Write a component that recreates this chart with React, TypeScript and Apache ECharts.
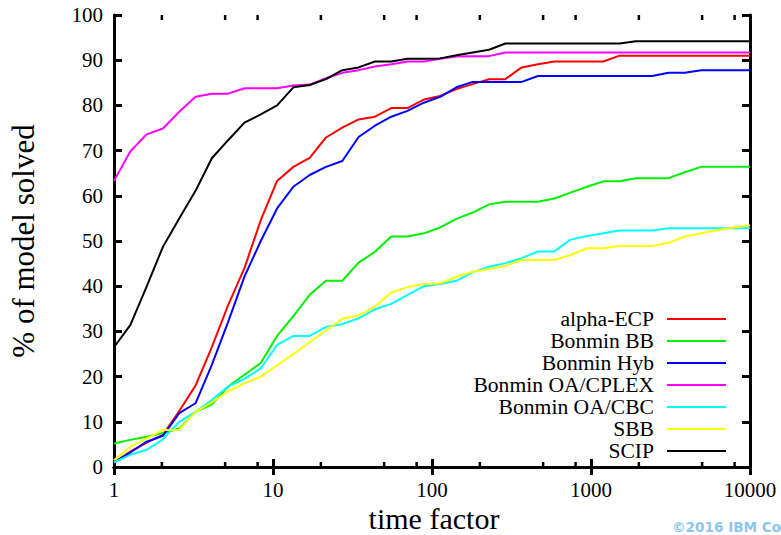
import React, { useEffect, useRef } from "react";
import * as echarts from "echarts";

const timeFactor = [1, 1.266, 1.604, 2.031, 2.572, 3.257, 4.124, 5.222, 6.613, 8.375, 10.61, 13.43, 17.01, 21.54, 27.28, 34.55, 43.76, 55.41, 70.17, 88.86, 112.5, 142.5, 180.5, 228.5, 289.4, 366.5, 464.2, 587.8, 744.4, 942.7, 1194, 1512, 1915, 2425, 3070, 3888, 4924, 6235, 7897, 10000];

const alphaECP = [1.0, 3.4, 5.4, 7.1, 12.4, 18.0, 26.5, 35.8, 44.0, 54.6, 63.3, 66.4, 68.4, 72.9, 75.1, 76.9, 77.5, 79.4, 79.4, 81.3, 82.1, 83.6, 84.7, 85.8, 85.8, 88.4, 89.1, 89.7, 89.7, 89.7, 89.7, 91.0, 91.0, 91.0, 91.0, 91.0, 91.0, 91.0, 91.0, 91.0];
const bonminBB = [5.2, 6.0, 6.7, 7.5, 8.5, 12.2, 13.8, 17.8, 20.4, 23.0, 29.0, 33.4, 38.1, 41.2, 41.2, 45.2, 47.6, 51.0, 51.0, 51.7, 53.0, 54.9, 56.3, 58.1, 58.7, 58.7, 58.7, 59.4, 60.7, 62.0, 63.2, 63.2, 63.9, 63.9, 63.9, 65.2, 66.4, 66.4, 66.4, 66.4];
const bonminHyb = [1.0, 3.2, 5.6, 6.9, 11.9, 14.1, 22.6, 32.1, 42.1, 50.0, 57.2, 62.0, 64.6, 66.4, 67.7, 73.0, 75.5, 77.5, 78.8, 80.6, 81.9, 84.0, 85.2, 85.2, 85.2, 85.2, 86.5, 86.5, 86.5, 86.5, 86.5, 86.5, 86.5, 86.5, 87.2, 87.2, 87.8, 87.8, 87.8, 87.8];
const bonminOACPLEX = [63.3, 69.8, 73.6, 74.9, 78.6, 81.9, 82.6, 82.6, 83.8, 83.8, 83.8, 84.4, 84.6, 86.0, 87.2, 87.8, 88.6, 89.1, 89.7, 89.7, 90.3, 90.8, 90.9, 90.9, 91.7, 91.7, 91.7, 91.7, 91.7, 91.7, 91.7, 91.7, 91.7, 91.7, 91.7, 91.7, 91.7, 91.7, 91.7, 91.7];
const bonminOACBC = [1.0, 2.7, 3.8, 6.1, 10.0, 12.2, 14.8, 17.8, 19.5, 21.8, 27.0, 29.0, 29.0, 31.0, 31.6, 32.9, 34.9, 36.1, 38.1, 40.0, 40.5, 41.2, 43.1, 44.3, 45.1, 46.2, 47.7, 47.7, 50.3, 51.1, 51.7, 52.3, 52.3, 52.3, 52.8, 52.8, 52.8, 52.8, 52.8, 52.8];
const sbb = [1.5, 4.5, 6.3, 8.2, 8.2, 12.2, 14.3, 16.7, 18.5, 20.0, 22.5, 25.0, 27.6, 30.2, 32.8, 33.5, 35.5, 38.6, 39.8, 40.5, 40.6, 42.1, 43.2, 43.8, 44.5, 45.8, 45.8, 45.8, 46.9, 48.4, 48.4, 48.9, 48.9, 48.9, 49.6, 51.0, 51.7, 52.4, 53.0, 53.5];
const scip = [26.5, 31.4, 39.9, 48.7, 55.0, 61.1, 68.3, 72.3, 76.2, 78.0, 80.0, 84.0, 84.5, 85.8, 87.8, 88.4, 89.7, 89.7, 90.3, 90.3, 90.4, 91.1, 91.7, 92.3, 93.7, 93.7, 93.7, 93.7, 93.7, 93.7, 93.7, 93.7, 94.2, 94.2, 94.2, 94.2, 94.2, 94.2, 94.2, 94.2];

const seriesNames = ["alpha-ECP", "Bonmin BB", "Bonmin Hyb", "Bonmin OA/CPLEX", "Bonmin OA/CBC", "SBB", "SCIP"];
const seriesValues = [alphaECP, bonminBB, bonminHyb, bonminOACPLEX, bonminOACBC, sbb, scip];
const seriesColors = ["#ff0000", "#00f000", "#0000ff", "#ff00ff", "#00ffff", "#ffff00", "#000000"];

const minorTicks = [2, 5, 8, 20, 50, 80, 200, 500, 800, 2000, 5000, 8000];

const SERIF = "'Liberation Serif', 'Times New Roman', serif";

export default function App() {
  const ref = useRef<HTMLDivElement>(null);
  useEffect(() => {
    if (!ref.current) return;
    const chart = echarts.init(ref.current, null, { renderer: "svg" });
    const xCommon = {
      type: "log" as const,
      logBase: 10,
      min: 1,
      max: 10000,
      splitLine: { show: false },
      minorTick: { show: false },
      axisLine: { show: true, lineStyle: { color: "#000", width: 3 } },
      axisTick: { show: true, inside: true, length: 8, lineStyle: { color: "#000", width: 3 } },
    };
    const yCommon = {
      type: "value" as const,
      min: 0,
      max: 100,
      interval: 10,
      splitLine: { show: false },
      axisLine: { show: true, lineStyle: { color: "#000", width: 3 } },
      axisTick: { show: true, inside: true, length: 8, lineStyle: { color: "#000", width: 3 } },
    };
    const lineSeries = seriesNames.map((name, i) => ({
      name,
      type: "line",
      xAxisIndex: 0,
      yAxisIndex: 0,
      data: timeFactor.map((t, j) => [t, seriesValues[i][j]]),
      showSymbol: false,
      symbol: "none",
      color: seriesColors[i],
      lineStyle: { width: 2, color: seriesColors[i] },
      z: 3,
    }));
    const option: any = {
      animation: false,
      grid: { left: 114, right: 31, top: 15, bottom: 68, outerBoundsMode: "none" },
      xAxis: [
        {
          ...xCommon,
          position: "bottom",
          axisLabel: {
            fontFamily: SERIF,
            fontSize: 21,
            color: "#000",
            margin: 12,
            formatter: (v: number) => String(Math.round(v)),
          },
        },
        { ...xCommon, position: "top", axisLabel: { show: false } },
      ],
      yAxis: [
        {
          ...yCommon,
          position: "left",
          axisLabel: { fontFamily: SERIF, fontSize: 21, color: "#000", margin: 11 },
        },
        { ...yCommon, position: "right", axisLabel: { show: false } },
      ],
      legend: {
        data: seriesNames,
        orient: "vertical",
        align: "right",
        right: 54,
        top: 308,
        itemWidth: 59,
        itemHeight: 14,
        itemGap: 0,
        padding: 0,
        itemStyle: { opacity: 0 },
        textStyle: {
          fontFamily: SERIF,
          fontSize: 21.6,
          lineHeight: 21.8,
          color: "#000",
          padding: [0, 8, 0, 0],
        },
      },
      graphic: [
        {
          type: "text",
          x: 23,
          y: 241,
          rotation: Math.PI / 2,
          style: {
            text: "% of model solved",
            font: `31px ${SERIF}`,
            fill: "#000",
            align: "center",
            verticalAlign: "middle",
          },
        },
        {
          type: "text",
          x: 434,
          y: 518,
          style: {
            text: "time factor",
            font: `30px ${SERIF}`,
            fill: "#000",
            align: "center",
            verticalAlign: "middle",
          },
        },
        {
          type: "text",
          x: 672,
          y: 527,
          style: {
            text: "\u00a92016 IBM Co",
            font: "bold 13.6px 'DejaVu Sans', sans-serif",
            fill: "#8cc6ee",
            align: "left",
            verticalAlign: "middle",
          },
        },
      ],
      series: [
        ...lineSeries,
        {
          type: "custom",
          name: "minorTicks",
          silent: true,
          xAxisIndex: 0,
          yAxisIndex: 0,
          data: minorTicks.map((t) => [t, 0]),
          encode: { x: 0, y: 1 },
          z: 5,
          renderItem: (params: any, api: any) => {
            const t = api.value(0);
            const b = api.coord([t, 0]);
            const tp = api.coord([t, 100]);
            return {
              type: "group",
              children: [
                { type: "line", shape: { x1: b[0], y1: b[1], x2: b[0], y2: b[1] - 5 }, style: { stroke: "#000", lineWidth: 2.5 } },
                { type: "line", shape: { x1: tp[0], y1: tp[1], x2: tp[0], y2: tp[1] + 5 }, style: { stroke: "#000", lineWidth: 2.5 } },
              ],
            };
          },
        },
      ],
    };
    chart.setOption(option);
    return () => chart.dispose();
  }, []);
  return (
    <div
      ref={ref}
      style={{ position: "absolute", left: 0, top: 0, width: 781, height: 535, background: "#fff" }}
    />
  );
}
